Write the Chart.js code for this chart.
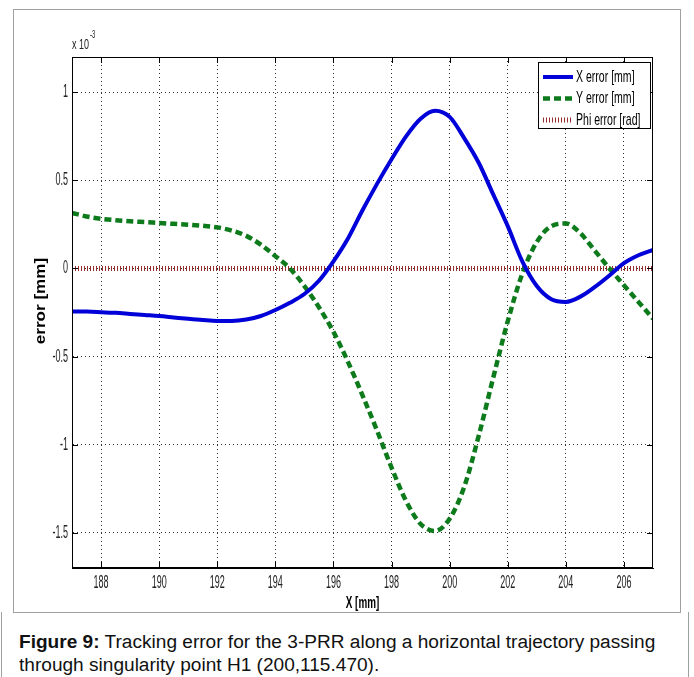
<!DOCTYPE html>
<html>
<head>
<meta charset="utf-8">
<script src="https://cdn.jsdelivr.net/npm/chart.js@4/dist/chart.umd.min.js"></script>
<style>
body{margin:0;background:#fff;width:694px;height:677px;position:relative;overflow:hidden;font-family:"Liberation Sans",Arial,sans-serif}
#frame{position:absolute;left:13px;top:9px;width:666px;height:602px;border:1px solid #a0a0a0}
#side{position:absolute;left:1px;top:612px;width:686px;height:70px;border-left:1px solid #a0a0a0;border-right:1px solid #a0a0a0}
#wrap{position:absolute;left:0;top:0;width:694px;height:612px}
#cap{position:absolute;left:19px;top:631px;font-size:18px;line-height:23px;color:#111;white-space:nowrap;transform:scaleX(1.06);transform-origin:0 0}
</style>
</head>
<body>
<div id="frame"></div>
<div id="side"></div>
<div id="wrap"><canvas id="myChart"></canvas></div>
<div id="cap"><b>Figure 9:</b> Tracking error for the 3-PRR along a horizontal trajectory passing<br>through singularity point H1 (200,115.470).</div>
<script>
// x positions [mm]
const xs = [187,187.5,188,188.5,189,189.5,190,190.5,191,191.5,192,192.5,193,193.5,194,194.5,195,195.5,196,196.5,
  197,197.5,198,198.5,199,199.5,200,200.5,201,201.5,202,202.5,203,203.5,204,204.5,205,205.5,206,206.5,207];
// errors, in units of 1e-3
const xErr = [-0.245,-0.245,-0.248,-0.252,-0.258,-0.264,-0.27,-0.278,-0.286,-0.293,-0.298,-0.298,-0.29,-0.27,-0.236,-0.195,-0.145,-0.07,0.04,0.17,
  0.33,0.48,0.62,0.75,0.85,0.895,0.86,0.74,0.6,0.42,0.24,0.04,-0.1,-0.175,-0.19,-0.16,-0.105,-0.04,0.03,0.075,0.105];
const yErr = [0.315,0.295,0.282,0.274,0.268,0.263,0.258,0.253,0.248,0.242,0.233,0.215,0.185,0.135,0.07,0,-0.1,-0.22,-0.36,-0.53,
  -0.72,-0.92,-1.13,-1.32,-1.45,-1.49,-1.42,-1.24,-0.95,-0.62,-0.3,-0.03,0.15,0.24,0.255,0.2,0.1,0,-0.095,-0.19,-0.285];
const phiErr = xs.map(() => 0);

const xTicks = [188,190,192,194,196,198,200,202,204,206];
const yTicks = [-1.5,-1,-0.5,0,0.5,1];
const seriesNames = ['X error [mm]','Y error [mm]','Phi error [rad]'];

const fam = '"Liberation Sans", Arial, sans-serif';

// text squeezed/stretched horizontally like the matlab export
function sText(c, txt, x, y, size, sx, align, weight) {
  c.save();
  c.font = (weight || 'normal') + ' ' + size + 'px ' + fam;
  c.textBaseline = 'middle';
  c.textAlign = 'left';
  const w = c.measureText(txt).width * sx;
  const x0 = align === 'center' ? x - w / 2 : align === 'right' ? x - w : x;
  c.translate(x0, y);
  c.scale(sx, 1);
  c.fillText(txt, 0, 0);
  c.restore();
  return w;
}

const decor = {
  id: 'decor',
  afterDraw(chart) {
    const c = chart.ctx, a = chart.chartArea;
    const sx = chart.scales.x, sy = chart.scales.y;
    c.save();
    c.strokeStyle = '#000';
    c.lineWidth = 1;
    c.strokeRect(a.left + 0.5, a.top + 0.5, a.right - a.left - 1, a.bottom - a.top - 1);
    c.beginPath();
    xTicks.forEach(v => {
      const p = Math.round(sx.getPixelForValue(v)) + 0.5;
      c.moveTo(p, a.bottom); c.lineTo(p, a.bottom - 6);
      c.moveTo(p, a.top); c.lineTo(p, a.top + 6);
    });
    yTicks.forEach(v => {
      const p = Math.round(sy.getPixelForValue(v)) + 0.5;
      c.moveTo(a.left, p); c.lineTo(a.left + 6, p);
      c.moveTo(a.right, p); c.lineTo(a.right - 6, p);
    });
    c.stroke();

    // tick labels
    c.fillStyle = '#222';
    xTicks.forEach(v => sText(c, String(v), sx.getPixelForValue(v), a.bottom + 15, 18, 0.5, 'center'));
    yTicks.forEach(v => sText(c, String(v), a.left - 4, sy.getPixelForValue(v), 18, 0.5, 'right'));

    // axis titles
    c.fillStyle = '#000';
    sText(c, 'X [mm]', (a.left + a.right) / 2, a.bottom + 35, 17, 0.58, 'center', 'bold');
    c.save();
    c.translate(41, 301);
    c.rotate(-Math.PI / 2);
    sText(c, 'error [mm]', 0, 0, 14, 1.22, 'center', 'bold');
    c.restore();

    // exponent
    c.fillStyle = '#222';
    const w = sText(c, 'x 10', a.left, a.top - 12, 15, 0.6, 'left');
    sText(c, '-3', a.left + w + 1, a.top - 22, 10, 0.6, 'left');

    // legend
    const lx = a.right - 115, ly = a.top + 5, lw = 112, lh = 66;
    c.fillStyle = '#fff';
    c.fillRect(lx, ly, lw, lh);
    c.strokeStyle = '#000';
    c.strokeRect(lx + 0.5, ly + 0.5, lw, lh);
    chart.data.datasets.forEach((ds, i) => {
      const yy = ly + 15 + i * 21.5;
      c.save();
      c.strokeStyle = ds.borderColor;
      c.lineWidth = ds.borderWidth;
      c.setLineDash(ds.borderDash || []);
      c.beginPath(); c.moveTo(lx + 5, yy); c.lineTo(lx + 35, yy); c.stroke();
      c.restore();
      c.fillStyle = '#000';
      sText(c, seriesNames[i], lx + 38, yy, 17, 0.62, 'left');
    });
    c.restore();
  }
};

const ctx = document.getElementById('myChart');

new Chart(ctx, {
  type: 'line',
  data: {
    datasets: [{
      label: seriesNames[0],
      data: xs.map((x, i) => ({x: x, y: xErr[i]})),
      borderColor: '#0000d8',
      borderWidth: 4,
      pointRadius: 0,
      cubicInterpolationMode: 'monotone'
    }, {
      label: seriesNames[1],
      data: xs.map((x, i) => ({x: x, y: yErr[i]})),
      borderColor: '#0d7a1c',
      borderWidth: 4.5,
      borderDash: [7, 4],
      pointRadius: 0,
      cubicInterpolationMode: 'monotone'
    }, {
      label: seriesNames[2],
      data: xs.map((x, i) => ({x: x, y: phiErr[i]})),
      borderColor: '#962c2c',
      borderWidth: 5,
      borderDash: [1, 2],
      pointRadius: 0
    }]
  },
  options: {
    responsive: true,
    maintainAspectRatio: false,
    animation: false,
    events: [],
    layout: {padding: {left: 0, top: 57, right: 41, bottom: 1}},
    plugins: {legend: {display: false}, tooltip: {enabled: false}},
    scales: {
      x: {
        type: 'linear',
        min: 187,
        max: 207,
        afterBuildTicks: s => { s.ticks = xTicks.map(v => ({value: v})); },
        afterFit: s => { s.height = 43; },
        grid: {color: '#333', drawTicks: false},
        border: {color: '#000', width: 1, dash: [1, 3]},
        ticks: {display: false}
      },
      y: {
        min: -1.7,
        max: 1.2,
        afterBuildTicks: s => { s.ticks = yTicks.map(v => ({value: v})); },
        afterFit: s => { s.width = 72; },
        grid: {color: '#333', drawTicks: false},
        border: {color: '#000', width: 1, dash: [1, 3]},
        ticks: {display: false}
      }
    }
  },
  plugins: [decor]
});
</script>
</body>
</html>
